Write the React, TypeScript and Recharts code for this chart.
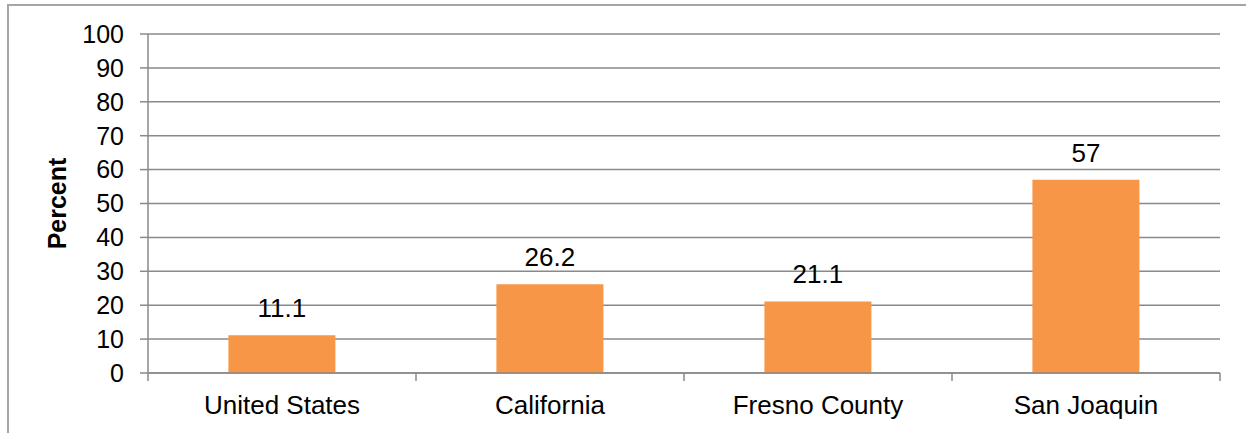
import React from "react";
import { BarChart, Bar, XAxis, YAxis, CartesianGrid, LabelList, Label } from "recharts";

const categories = ["United States", "California", "Fresno County", "San Joaquin"];
const percentValues = [11.1, 26.2, 21.1, 57];
const yTicks = [0, 10, 20, 30, 40, 50, 60, 70, 80, 90, 100];

const data = categories.map((name, i) => ({ name, value: percentValues[i] }));

const WIDTH = 1246;
const HEIGHT = 433;
const MARGIN = { top: 34, right: 26, left: 0, bottom: 0 };
const Y_AXIS_WIDTH = 148;
const X_AXIS_HEIGHT = 60;
const PLOT_WIDTH = WIDTH - MARGIN.left - MARGIN.right - Y_AXIS_WIDTH;
const BAND = PLOT_WIDTH / categories.length;
const TICK_LEN = 8;

const FONT = "'Liberation Sans', Arial, sans-serif";
const LINE = "#8a8a8a";
const BAR = "#F79646";

// Category tick: label under the band centre, tick marks on the band edges
const CategoryTick = (props: any) => {
  const { x, y, payload, index } = props;
  const top = y - TICK_LEN;
  const isLast = index === categories.length - 1;
  return (
    <g>
      <line x1={x - BAND / 2} x2={x - BAND / 2} y1={top} y2={y} stroke={LINE} strokeWidth={1.5} />
      {isLast && (
        <line x1={x + BAND / 2} x2={x + BAND / 2} y1={top} y2={y} stroke={LINE} strokeWidth={1.5} />
      )}
      <text x={x} y={y + 33} textAnchor="middle" fontSize={26} fill="#000" fontFamily={FONT}>
        {payload.value}
      </text>
    </g>
  );
};

const AxisTitle = (props: any) => {
  const { viewBox } = props;
  const cx = viewBox.x + 57;
  const cy = viewBox.y + viewBox.height / 2;
  return (
    <text
      x={cx}
      y={cy}
      transform={`rotate(-90, ${cx}, ${cy})`}
      textAnchor="middle"
      dominantBaseline="central"
      fontSize={25}
      fontWeight="bold"
      fill="#000"
      fontFamily={FONT}
    >
      Percent
    </text>
  );
};

export default function App() {
  return (
    <div
      style={{
        position: "absolute",
        left: 0,
        top: 0,
        width: WIDTH,
        height: HEIGHT,
        overflow: "hidden",
        background: "#fff",
      }}
    >
      <div
        style={{
          position: "absolute",
          left: 7,
          top: 4,
          width: 1400,
          height: 600,
          borderTop: "2px solid #a6a6a6",
          borderLeft: "2px solid #a6a6a6",
        }}
      />
      <div style={{ position: "absolute", left: 0, top: 0 }}>
        <BarChart
          width={WIDTH}
          height={HEIGHT}
          data={data}
          margin={MARGIN}
          barCategoryGap="30%"
          style={{ fontFamily: FONT }}
        >
          <CartesianGrid vertical={false} stroke={LINE} strokeWidth={1.5} />
          <XAxis
            dataKey="name"
            height={X_AXIS_HEIGHT}
            axisLine={{ stroke: LINE, strokeWidth: 1.5 }}
            tickLine={false}
            tickSize={TICK_LEN}
            tickMargin={0}
            interval={0}
            tick={<CategoryTick />}
          />
          <YAxis
            width={Y_AXIS_WIDTH}
            domain={[0, 100]}
            ticks={yTicks}
            interval={0}
            tickSize={TICK_LEN}
            tickMargin={16}
            axisLine={{ stroke: LINE, strokeWidth: 1.5 }}
            tickLine={{ stroke: LINE, strokeWidth: 1.5 }}
            tick={{ fontSize: 25, fill: "#000", fontFamily: FONT }}
          >
            <Label content={<AxisTitle />} />
          </YAxis>
          <Bar dataKey="value" fill={BAR} isAnimationActive={false}>
            <LabelList
              dataKey="value"
              position="top"
              offset={18}
              fontSize={26}
              fill="#000"
              fontFamily={FONT}
            />
          </Bar>
        </BarChart>
      </div>
    </div>
  );
}
